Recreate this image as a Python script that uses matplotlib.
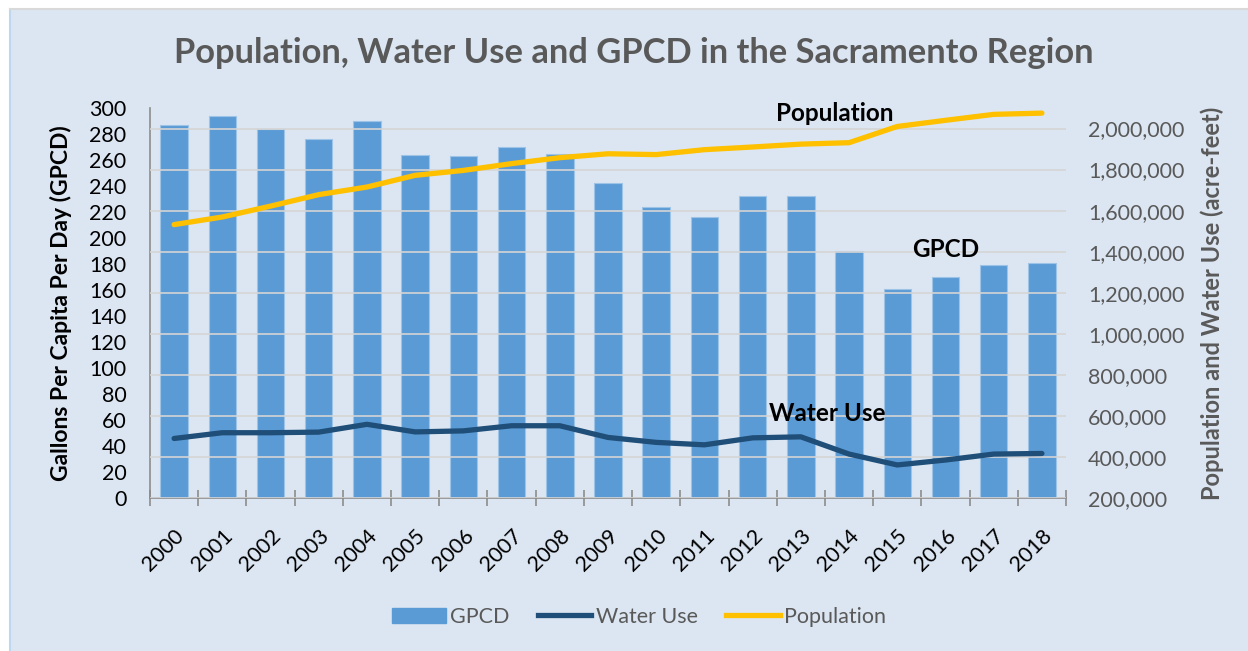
import matplotlib.pyplot as plt
import matplotlib.patches as mpatches
from matplotlib.lines import Line2D
from matplotlib.ticker import FuncFormatter

plt.rcParams["font.family"] = ["Lato", "DejaVu Sans"]

years = [str(y) for y in range(2000, 2019)]
gpcd = [287, 294, 284, 276, 290, 264, 263, 270, 265, 242,
        224, 216, 232, 232, 190, 161, 170, 179, 181]
water_use = [490000, 518000, 518000, 521000, 559000, 522000, 527000, 552000, 552000, 495000,
             471000, 459000, 493000, 498000, 414000, 361000, 385000, 414000, 417000]
population = [1532000, 1569000, 1622000, 1678000, 1715000, 1772000, 1796000, 1829000, 1858000, 1877000,
              1873000, 1897000, 1910000, 1924000, 1931000, 2010000, 2040000, 2069000, 2075000]

bg = "#DCE6F2"
bar_c = "#5B9BD5"
water_c = "#1F4E79"
pop_c = "#FFC000"
grey = "#595959"

fig = plt.figure(figsize=(12.48, 6.51), dpi=100)
fig.patch.set_facecolor("white")
# chart panel with a thin frame on the top and left
fig.patches.append(mpatches.Rectangle((10 / 1248, 0), 1, 1 - 9 / 651, transform=fig.transFigure,
                                      facecolor=bg, edgecolor="none", zorder=-2))
fig.add_artist(Line2D([10 / 1248, 10 / 1248], [0, 1 - 9 / 651], color="#BDD7EE", lw=1.5))
fig.add_artist(Line2D([10 / 1248, 1], [1 - 9 / 651, 1 - 9 / 651], color="#D9D9D9", lw=1.5))

ax = fig.add_axes([150 / 1248, 1 - 498 / 651, (1066 - 150) / 1248, 390 / 651])
ax2 = ax.twinx()
ax.set_zorder(1)
ax2.set_zorder(2)
ax.patch.set_visible(False)
ax2.patch.set_visible(False)

x = list(range(len(years)))
ax.bar(x, gpcd, width=0.57, color=bar_c, edgecolor="#9DC3E6", linewidth=0.8, zorder=3)
ax.set_ylim(0, 300)
ax.set_xlim(-0.5, len(years) - 0.5)
ax.set_yticks(range(0, 301, 20))
ax.tick_params(axis="y", length=0, labelsize=15.5, labelcolor="black", pad=17)

ax.set_xticks(x)
ax.set_xticklabels(years, rotation=45, ha="right", rotation_mode="anchor", fontsize=15.5)
ax.set_xticks([i - 0.5 for i in range(len(years) + 1)], minor=True)
ax.tick_params(axis="x", which="major", length=0, pad=20)
ax.tick_params(axis="x", which="minor", direction="inout", length=12, width=1.2, color="#8C8C8C")

for s in ["top", "right"]:
    ax.spines[s].set_visible(False)
ax.spines["left"].set_color("#8C8C8C")
ax.spines["bottom"].set_color("#8C8C8C")
ax.spines["left"].set_linewidth(1.2)
ax.spines["bottom"].set_linewidth(1.2)
ax.set_ylabel("Gallons Per Capita Per Day (GPCD)", fontsize=16.5, fontweight="bold", labelpad=12)

ax2.plot(x, water_use, color=water_c, lw=3.8, solid_capstyle="round", zorder=4)
ax2.plot(x, population, color=pop_c, lw=3.8, solid_capstyle="round", zorder=4)
ax2.set_ylim(200000, 2100000)
ax2.set_yticks(range(200000, 2000001, 200000))
ax2.yaxis.set_major_formatter(FuncFormatter(lambda v, p: f"{int(v):,}"))
ax2.tick_params(axis="y", length=0, labelsize=15.5, labelcolor=grey, pad=16)
ax2.grid(axis="y", color="#D4D4D4", lw=1.2, zorder=0)
for s in ["top", "right", "left", "bottom"]:
    ax2.spines[s].set_visible(False)
ax2.set_ylabel("Population and Water Use (acre-feet)", fontsize=17, fontweight="bold",
               color=grey, labelpad=11)

# series name labels placed next to their lines
ax2.text(13.7, 2073000, "Population", fontsize=17.5, fontweight="bold", ha="center", va="center", zorder=6)
ax2.text(13.55, 613000, "Water Use", fontsize=17.5, fontweight="bold", ha="center", va="center", zorder=6)
ax2.text(16.0, 191, "GPCD", fontsize=17.5, fontweight="bold", ha="center", va="center",
         transform=ax.transData, zorder=6)

fig.text(634 / 1248, 1 - 53 / 651, "Population, Water Use and GPCD in the Sacramento Region",
         fontsize=24.8, fontweight="bold", color=grey, ha="center", va="center")

handles = [mpatches.Patch(color=bar_c, label="GPCD"),
           Line2D([], [], color=water_c, lw=3.8, label="Water Use"),
           Line2D([], [], color=pop_c, lw=3.8, label="Population")]
leg = fig.legend(handles=handles, loc="center", bbox_to_anchor=(639 / 1248, 1 - 617 / 651), ncol=3,
                 frameon=False, fontsize=15.5, handlelength=2.5, handletextpad=0.2, columnspacing=1.3)
for t in leg.get_texts():
    t.set_color(grey)

fig.savefig("out.png", dpi=100, facecolor=fig.get_facecolor())
